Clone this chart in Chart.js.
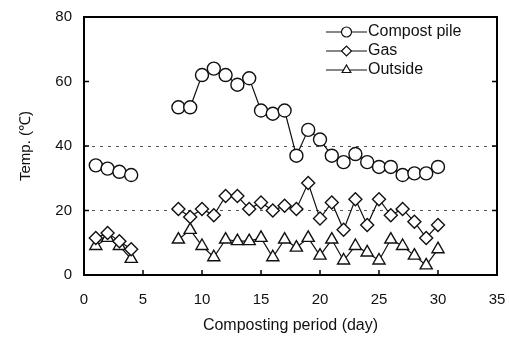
<!DOCTYPE html>
<html>
<head>
<meta charset="utf-8">
<script src="https://cdn.jsdelivr.net/npm/chart.js@4/dist/chart.umd.min.js"></script>
<style>
  html, body { margin: 0; padding: 0; background: #fff; }
  #wrap { width: 509px; height: 338px; }
</style>
</head>
<body>
<div id="wrap"><canvas id="tempChart"></canvas></div>
<script>
// Data
const days = [1, 2, 3, 4, 8, 9, 10, 11, 12, 13, 14, 15, 16, 17, 18, 19, 20, 21, 22, 23, 24, 25, 26, 27, 28, 29, 30];
const compostPile = [34, 33, 32, 31, 52, 52, 62, 64, 62, 59, 61, 51, 50, 51, 37, 45, 42, 37, 35, 37.5, 35, 33.5, 33.5, 31, 31.5, 31.5, 33.5];
const gas = [11.5, 13, 10.5, 8, 20.5, 18, 20.5, 18.5, 24.5, 24.5, 20.5, 22.5, 20, 21.5, 20.5, 28.5, 17.5, 22.5, 14, 23.5, 15.5, 23.5, 18.5, 20.5, 16.5, 11.5, 15.5];
const outside = [9, 11.5, 9, 5, 11, 14, 9, 5.5, 11, 10.5, 10.5, 11.5, 5.5, 11, 8.5, 11.5, 6, 11, 4.5, 9, 7, 4.5, 11, 9, 6, 3, 8];
const xTicks = [0, 5, 10, 15, 20, 25, 30, 35];
const yTicks = [0, 20, 40, 60, 80];
const dashedLevels = [20, 40];

const FONT = '"Liberation Sans", Arial, sans-serif';

function toPoints(vals) {
    return days.map((d, i) => ({ x: d, y: vals[i] }));
}

// no connecting line across the gap (days 4 -> 8)
const gapSegment = {
    borderColor: ctx => (ctx.p1.parsed.x - ctx.p0.parsed.x > 1 ? 'transparent' : '#111')
};

function series(label, vals, style, radius) {
    return {
        label: label,
        data: toPoints(vals),
        borderColor: '#111',
        borderWidth: 1.2,
        pointStyle: style,
        pointRadius: radius,
        pointBorderWidth: 1.4,
        pointBackgroundColor: '#fff',
        pointBorderColor: '#111',
        segment: gapSegment,
        tension: 0
    };
}

// frame, inward ticks and the in-plot legend
const framePlugin = {
    id: 'frame',
    afterDraw(chart) {
        const ctx = chart.ctx;
        const xs = chart.scales.x, ys = chart.scales.y;
        const L = xs.getPixelForValue(0), R = xs.getPixelForValue(35);
        const T = ys.getPixelForValue(80), B = ys.getPixelForValue(0);
        ctx.save();
        ctx.fillStyle = '#000';
        ctx.fillRect(L - 1, T - 1, R - L + 2, 2);
        ctx.fillRect(L - 1, B - 1, R - L + 2, 2);
        ctx.fillRect(L - 1, T - 1, 2, B - T + 2);
        ctx.fillRect(R - 1, T - 1, 2, B - T + 2);

        yTicks.slice(1, -1).forEach(v => {
            const y = ys.getPixelForValue(v);
            ctx.fillRect(L, y - 0.75, 5, 1.5);
            ctx.fillRect(R - 5, y - 0.75, 5, 1.5);
        });
        xTicks.slice(1, -1).forEach(v => {
            const x = xs.getPixelForValue(v);
            ctx.fillRect(x - 0.75, B - 5, 1.5, 5);
        });

        // legend: line - marker - line, then text
        const lx0 = R - 171, lx1 = R - 130;
        chart.data.datasets.forEach((ds, i) => {
            const y = T + 15 + i * 19;
            ctx.strokeStyle = '#111';
            ctx.lineWidth = 1.2;
            ctx.beginPath();
            ctx.moveTo(lx0, y); ctx.lineTo(lx1, y);
            ctx.stroke();
            ctx.fillStyle = '#fff';
            Chart.helpers.drawPoint(ctx, { pointStyle: ds.pointStyle, radius: 5, borderWidth: 1.3 }, (lx0 + lx1) / 2, y);
            ctx.fillStyle = '#111';
            ctx.font = '16px ' + FONT;
            ctx.textBaseline = 'middle';
            ctx.textAlign = 'left';
            ctx.fillText(ds.label, lx1 + 1, y);
        });
        ctx.restore();
    }
};

new Chart(document.getElementById('tempChart'), {
    type: 'line',
    data: {
        datasets: [
            series('Compost pile', compostPile, 'circle', 6.5),
            series('Gas', gas, 'rectRot', 6.5),
            series('Outside', outside, 'triangle', 7)
        ]
    },
    options: {
        responsive: true,
        maintainAspectRatio: false,
        animation: false,
        layout: { padding: { top: 17, right: 12, left: 0, bottom: 0 } },
        plugins: { legend: { display: false }, tooltip: { enabled: false } },
        scales: {
            x: {
                type: 'linear',
                min: 0,
                max: 35,
                afterBuildTicks: s => { s.ticks = xTicks.map(v => ({ value: v })); },
                afterFit: s => { s.height = 63; },
                grid: { display: false, drawTicks: true, tickLength: 14 },
                border: { display: false },
                ticks: { color: '#111', padding: 2, font: { family: FONT, size: 15 } },
                title: {
                    display: true,
                    text: 'Composting period (day)',
                    color: '#111',
                    font: { family: FONT, size: 16 },
                    padding: { top: 0, bottom: 3 }
                }
            },
            y: {
                min: 0,
                max: 80,
                afterBuildTicks: s => { s.ticks = yTicks.map(v => ({ value: v })); },
                afterFit: s => { s.width = 84; },
                grid: {
                    drawTicks: true,
                    tickLength: 10,
                    tickColor: 'transparent',
                    lineWidth: 1,
                    color: c => (dashedLevels.includes(c.tick && c.tick.value) ? '#555' : 'transparent')
                },
                border: { display: false, dash: [3, 5] },
                ticks: { color: '#111', padding: 2, font: { family: FONT, size: 15 } },
                title: {
                    display: true,
                    text: 'Temp. (℃)',
                    color: '#111',
                    font: { family: FONT, size: 15 },
                    padding: { top: 17, bottom: 0 }
                }
            }
        }
    },
    plugins: [framePlugin]
});
</script>
</body>
</html>
